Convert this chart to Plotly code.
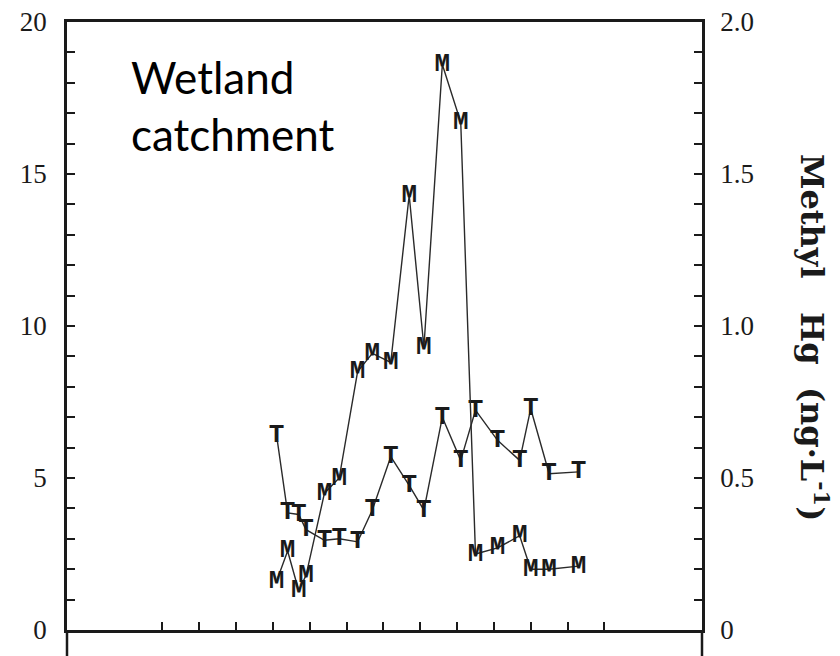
import plotly.graph_objects as go

# ---- data ----
sample_day = [31, 34, 37, 39, 44, 48, 53, 57, 62, 67, 71, 76, 81, 85, 91, 97, 100, 105, 113]
total_hg = [6.4, 3.85, 3.8, 3.3, 2.95, 3.0, 2.9, 3.95, 5.7, 4.76, 3.94, 7.0, 5.58, 7.23, 6.24, 5.58, 7.28, 5.14, 5.2]
methyl_hg = [0.16, 0.26, 0.13, 0.18, 0.45, 0.50, 0.85, 0.91, 0.88, 1.43, 0.93, 1.86, 1.67, 0.25, 0.27, 0.31, 0.20, 0.20, 0.21]
x_ticks = list(range(0, 121, 10))
left_ticks = [0, 5, 10, 15, 20]
right_ticks = [0, 0.5, 1.0, 1.5, 2.0]
right_tick_text = ["0", "0.5", "1.0", "1.5", "2.0"]

INK = "#1a1a1a"
marker_font = dict(family="Liberation Mono", size=26, color=INK, weight="bold")
tick_font = dict(family="Liberation Serif", size=27, color=INK)

fig = go.Figure()
fig.add_trace(go.Scatter(
    x=sample_day, y=total_hg, mode="lines+text", text=["T"] * len(total_hg),
    textposition="middle center", textfont=marker_font,
    line=dict(color="#2a2a2a", width=1.4), yaxis="y", showlegend=False,
    hoverinfo="skip"))
fig.add_trace(go.Scatter(
    x=sample_day, y=methyl_hg, mode="lines+text", text=["M"] * len(methyl_hg),
    textposition="middle center", textfont=marker_font,
    line=dict(color="#2a2a2a", width=1.4), yaxis="y2", showlegend=False,
    hoverinfo="skip"))

fig.update_layout(
    width=840, height=656,
    margin=dict(l=59, r=146, t=14, b=34),
    paper_bgcolor="white", plot_bgcolor="white",
    xaxis=dict(range=[-25.9, 146.5], showgrid=False, zeroline=False, automargin=False,
               showline=True, linecolor=INK, linewidth=2.5, mirror=True,
               tickvals=x_ticks, ticks="inside", ticklen=8, tickwidth=2,
               tickcolor=INK, showticklabels=False),
    yaxis=dict(range=[0, 20], tickvals=left_ticks, showgrid=False, zeroline=False,
               automargin=False,
               showline=True, linecolor=INK, linewidth=2.5,
               ticks="inside", ticklen=8, tickwidth=2, tickcolor=INK,
               minor=dict(dtick=1, ticks="inside", ticklen=8, tickwidth=2, tickcolor=INK),
               tickfont=tick_font, ticklabelstandoff=12, ticklabeloverflow="allow"),
    yaxis2=dict(range=[0, 2.0], overlaying="y", side="right", anchor="x",
                tickvals=right_ticks, ticktext=right_tick_text,
                showgrid=False, zeroline=False, automargin=False,
                showline=True, linecolor=INK, linewidth=2.5,
                ticks="inside", ticklen=8, tickwidth=2, tickcolor=INK,
                minor=dict(dtick=0.1, ticks="inside", ticklen=8, tickwidth=2, tickcolor=INK),
                tickfont=tick_font, ticklabelstandoff=10, ticklabeloverflow="allow"),
)

# axis lines continuing below the baseline, as in the scan
for xp in (0, 1):
    fig.add_shape(type="line", xref="paper", yref="paper", x0=xp, x1=xp,
                  y0=0, y1=-0.05, line=dict(color=INK, width=2.5))

fig.add_annotation(text="Wetland<br>catchment", xref="paper", yref="paper",
                   x=0.097, y=0.862, xanchor="left", yanchor="middle", align="left",
                   showarrow=False,
                   font=dict(family="Lato", size=44, color="black"))

fig.add_annotation(text="Methyl\u00a0\u00a0\u00a0Hg\u00a0\u00a0(ng·L<sup>-1</sup>)",
                   xref="paper", yref="paper", x=(812 - 65) / 635, y=(628 - 335) / 608,
                   xanchor="center", yanchor="middle", textangle=90, showarrow=False,
                   font=dict(family="DejaVu Serif", size=32, color=INK, weight="bold"))

fig.write_html("out.html")
